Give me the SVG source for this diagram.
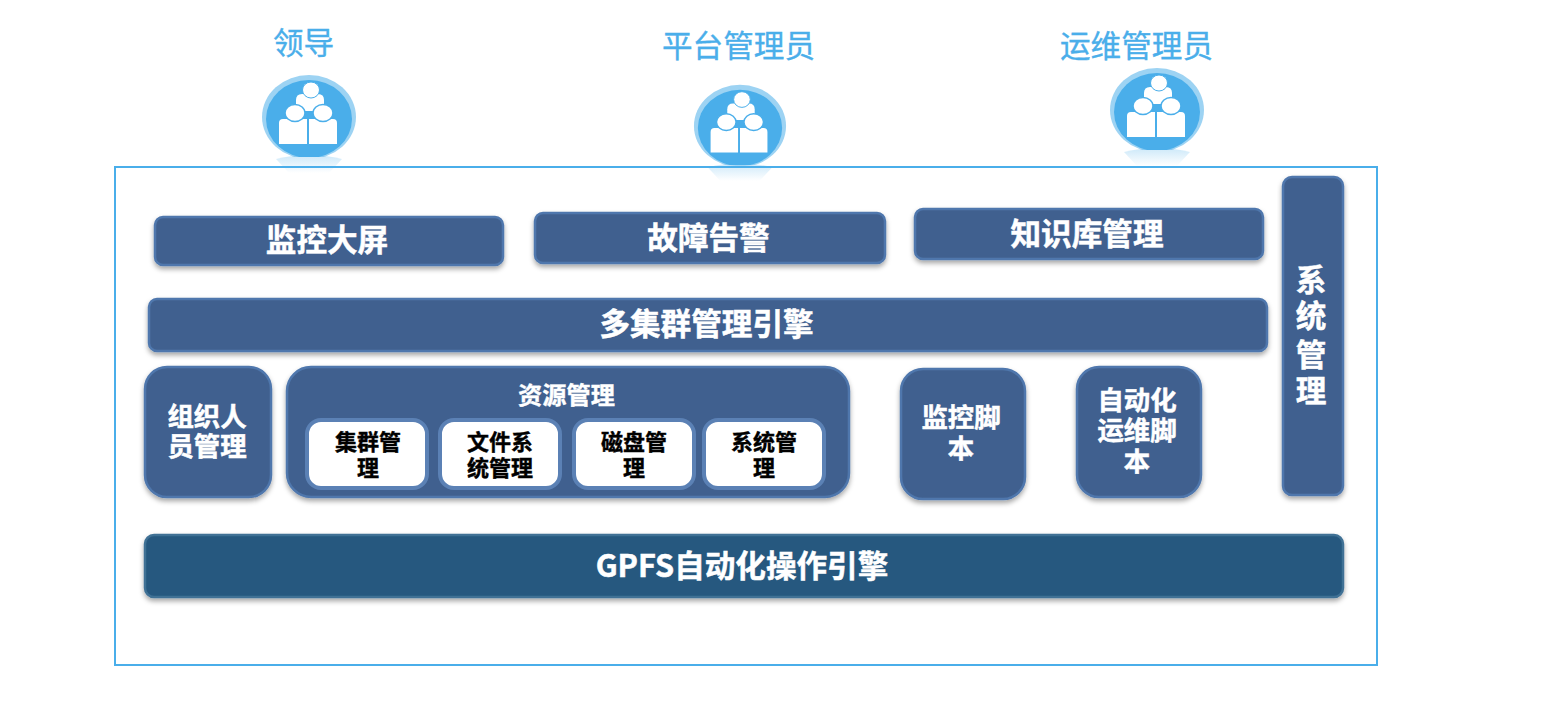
<svg xmlns="http://www.w3.org/2000/svg" width="1552" height="708" viewBox="0 0 1552 708">
<style>
text{font-family:"Noto Sans CJK SC","Noto Sans",sans-serif;text-anchor:middle}
.role{font-size:30.6px;fill:#4aaeea;font-weight:400;stroke:#4aaeea;stroke-width:.35}
.dark{fill:#41618f;stroke:#4f77ad;stroke-width:2.5;filter:url(#sh)}
.deep{fill:#26587f;stroke:#3f7195;stroke-width:2.5;filter:url(#sh)}
.inner{fill:#fff;stroke:#5b81b5;stroke-width:4}
.t30{font-size:30.6px;font-weight:700;fill:#fff;stroke:#fff;stroke-width:.5}
.t26{font-size:26.4px;font-weight:700;fill:#fff;stroke:#fff;stroke-width:.5}
.t24{font-size:24.2px;font-weight:700;fill:#fff;stroke:#fff;stroke-width:.4}
.t22{font-size:22px;font-weight:700;fill:#000;stroke:#000;stroke-width:.4}
</style>
<defs>
<filter id="sh" x="-10%" y="-20%" width="120%" height="150%"><feDropShadow dx="0" dy="3" stdDeviation="2.5" flood-color="#000" flood-opacity="0.35"/></filter>
<linearGradient id="refl" x1="0" y1="0" x2="0" y2="1"><stop offset="0" stop-color="#4aaeea" stop-opacity="0.28"/><stop offset="1" stop-color="#4aaeea" stop-opacity="0"/></linearGradient>
<clipPath id="ic"><rect x="-50" y="-45" width="100" height="85"/></clipPath>
<g id="person">
<ellipse cx="0" cy="0" rx="47" ry="42" fill="#9dd3f3" clip-path="url(#ic)"/>
<ellipse cx="0" cy="2" rx="43" ry="39" fill="#4aaeea" clip-path="url(#ic)"/>
<path d="M-33 42Q0 34 33 42L20 56H-20Z" fill="url(#refl)"/>
<path d="M-13-6v-11q0-6 6-6h16q6 0 6 6v11z" fill="#fff"/>
<ellipse cx="2" cy="-27" rx="8.500" ry="8" fill="#fff" stroke="#4aaeea" stroke-width="1"/>
<path d="M-30 27V6q0-4 4-4h24v25zM0 27V2h24q4 0 4 4v21z" fill="#fff"/>
<ellipse cx="-14" cy="-4" rx="10" ry="8.500" fill="#fff" stroke="#4aaeea" stroke-width="1.500"/>
<ellipse cx="14" cy="-4" rx="10" ry="8.500" fill="#fff" stroke="#4aaeea" stroke-width="1.500"/>
</g>
</defs>
<rect width="1552" height="708" fill="#fff"/>
<g id="role-leader"><text class="role" x="303.500" y="54">领导</text><use href="#person" transform="translate(309,117)"/></g>
<g id="role-platform"><text class="role" x="738.500" y="57">平台管理员</text><use href="#person" transform="translate(740,126) scale(.98)"/></g>
<g id="role-ops"><text class="role" x="1136.500" y="57">运维管理员</text><use href="#person" transform="translate(1157,110)"/></g>
<g id="frame"><rect x="115" y="167" width="1262" height="498" fill="none" stroke="#4aaeea" stroke-width="2"/></g>
<g id="connectors"></g>
<g id="n-screen"><rect class="dark" x="155" y="217" width="348" height="48" rx="8"/><text class="t30" x="327" y="251">监控大屏</text></g>
<g id="n-alarm"><rect class="dark" x="535" y="213" width="350" height="50" rx="8"/><text class="t30" x="708.500" y="249">故障告警</text></g>
<g id="n-kb"><rect class="dark" x="915" y="209" width="348" height="50" rx="8"/><text class="t30" x="1087" y="245">知识库管理</text></g>
<g id="n-sys"><rect class="dark" x="1283" y="177" width="60" height="318" rx="9"/><text class="t30"><tspan x="1311" y="291">系</tspan><tspan x="1311" y="327">统</tspan><tspan x="1311" y="366">管</tspan><tspan x="1311" y="402">理</tspan></text></g>
<g id="n-multi"><rect class="dark" x="149" y="299" width="1118" height="52" rx="8"/><text class="t30" x="706.500" y="335">多集群管理引擎</text></g>
<g id="n-org"><rect class="dark" x="145" y="367" width="126" height="130" rx="22"/><text class="t26"><tspan x="207" y="426">组织人</tspan><tspan x="207" y="456">员管理</tspan></text></g>
<g id="n-res"><rect class="dark" x="287" y="367" width="562" height="130" rx="24"/><text class="t24" x="566.500" y="404">资源管理</text></g>
<g id="n-res1"><rect class="inner" x="307" y="420" width="120" height="68" rx="14"/><text class="t22"><tspan x="368" y="450">集群管</tspan><tspan x="368" y="476">理</tspan></text></g>
<g id="n-res2"><rect class="inner" x="440" y="420" width="120" height="68" rx="14"/><text class="t22"><tspan x="500" y="450">文件系</tspan><tspan x="500" y="476">统管理</tspan></text></g>
<g id="n-res3"><rect class="inner" x="574" y="420" width="120" height="68" rx="14"/><text class="t22"><tspan x="634" y="450">磁盘管</tspan><tspan x="634" y="476">理</tspan></text></g>
<g id="n-res4"><rect class="inner" x="704" y="420" width="120" height="68" rx="14"/><text class="t22"><tspan x="764" y="450">系统管</tspan><tspan x="764" y="476">理</tspan></text></g>
<g id="n-mon"><rect class="dark" x="901" y="369" width="124" height="130" rx="22"/><text class="t26"><tspan x="961" y="427">监控脚</tspan><tspan x="961" y="458">本</tspan></text></g>
<g id="n-auto"><rect class="dark" x="1077" y="367" width="124" height="130" rx="22"/><text class="t26"><tspan x="1137" y="410">自动化</tspan><tspan x="1137" y="440">运维脚</tspan><tspan x="1137" y="471">本</tspan></text></g>
<g id="n-gpfs"><rect class="deep" x="145" y="535" width="1198" height="62" rx="9"/><text class="t30" x="742" y="577">GPFS自动化操作引擎</text></g>
</svg>
